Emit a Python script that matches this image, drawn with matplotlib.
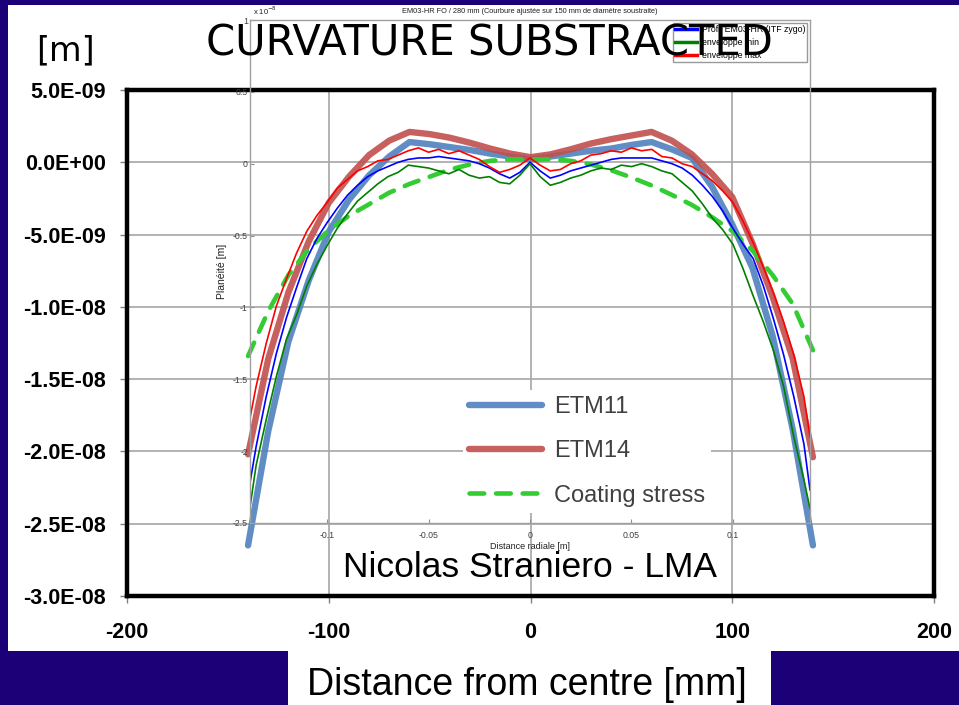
import numpy as np
import matplotlib.pyplot as plt
from matplotlib.patches import Rectangle
from matplotlib.ticker import FormatStrFormatter, FuncFormatter

# Excel chart : measured ETM figures and coating stress model (mm, nm)
pos_mm = [-140, -130, -120, -110, -100, -90, -80, -70, -60, -50, -40, -30, -20, -10,
          0, 10, 20, 30, 40, 50, 60, 70, 80, 90, 100, 110, 120, 130, 140]
etm11_nm = [-26.5, -18.6, -12.4, -8.2, -4.8, -2.6, -0.9, 0.4, 1.4, 1.25, 1.05, 0.85, 0.6, 0.4,
            0.2, 0.4, 0.6, 0.8, 0.95, 1.2, 1.4, 0.9, 0.3, -1.7, -4.3, -7.3, -12.0, -18.5, -26.5]
etm14_nm = [-20.2, -13.6, -9.0, -5.5, -2.8, -1.0, 0.5, 1.5, 2.1, 1.95, 1.7, 1.35, 0.95, 0.6,
            0.35, 0.55, 0.9, 1.3, 1.6, 1.85, 2.1, 1.5, 0.55, -0.8, -2.4, -5.6, -9.3, -13.6, -20.4]
coating_nm = [-13.4, -10.3, -7.8, -6.0, -4.7, -3.7, -2.9, -2.1, -1.5, -1.0, -0.5, -0.15, 0.1, 0.2,
              0.2, 0.2, 0.1, -0.15, -0.55, -1.05, -1.6, -2.25, -2.95, -3.8, -4.75, -6.1, -7.8, -9.8, -13.0]

# MATLAB plot : EM03-HR profile and envelopes (m, x1e-8 m)
r_m = [-0.138, -0.135, -0.13, -0.125, -0.12, -0.115, -0.11, -0.105, -0.1, -0.095,
       -0.09, -0.085, -0.08, -0.075, -0.07, -0.065, -0.06, -0.055, -0.05, -0.045,
       -0.04, -0.035, -0.03, -0.025, -0.02, -0.015, -0.01, -0.005, 0.0, 0.005,
       0.01, 0.015, 0.02, 0.025, 0.03, 0.035, 0.04, 0.045, 0.05, 0.055,
       0.06, 0.065, 0.07, 0.075, 0.08, 0.085, 0.09, 0.095, 0.1, 0.105,
       0.11, 0.115, 0.12, 0.125, 0.13, 0.135, 0.138]
profil = [-2.22, -1.97, -1.62, -1.32, -1.07, -0.86, -0.66, -0.52, -0.41, -0.31,
          -0.22, -0.15, -0.09, -0.05, -0.02, 0.01, 0.03, 0.04, 0.04, 0.05,
          0.04, 0.03, 0.02, 0.0, -0.03, -0.07, -0.10, -0.06, 0.01, -0.05,
          -0.10, -0.08, -0.05, -0.03, -0.01, 0.01, 0.03, 0.04, 0.04, 0.04,
          0.04, 0.02, 0.0, -0.03, -0.08, -0.15, -0.23, -0.33, -0.45, -0.56,
          -0.66, -0.85, -1.08, -1.33, -1.62, -1.95, -2.27]
env_min = [-2.39, -2.10, -1.78, -1.48, -1.22, -1.05, -0.85, -0.70, -0.57, -0.45,
           -0.35, -0.26, -0.20, -0.14, -0.09, -0.06, -0.01, -0.02, -0.03, -0.05,
           -0.07, -0.04, -0.08, -0.10, -0.09, -0.13, -0.14, -0.08, 0.0, -0.09,
           -0.15, -0.13, -0.10, -0.08, -0.05, -0.03, -0.04, -0.01, -0.02, 0.0,
           -0.02, -0.05, -0.07, -0.13, -0.19, -0.28, -0.38, -0.46, -0.56, -0.73,
           -0.92, -1.10, -1.30, -1.55, -1.90, -2.20, -2.40]
env_max = [-1.77, -1.55, -1.25, -0.99, -0.80, -0.62, -0.47, -0.36, -0.27, -0.17,
           -0.11, -0.05, -0.02, 0.02, 0.03, 0.06, 0.09, 0.11, 0.08, 0.10,
           0.07, 0.09, 0.06, 0.03, -0.02, -0.06, -0.04, -0.01, 0.04, -0.01,
           -0.05, -0.04, 0.0, 0.02, 0.06, 0.07, 0.09, 0.08, 0.11, 0.09,
           0.10, 0.05, 0.04, 0.0, -0.02, -0.07, -0.12, -0.19, -0.27, -0.40,
           -0.55, -0.72, -0.90, -1.10, -1.33, -1.62, -1.90]

main_xticks = [-200, -100, 0, 100, 200]
main_yticks = [5e-9, 0.0, -5e-9, -1e-8, -1.5e-8, -2e-8, -2.5e-8, -3e-8]
inner_xticks = [-0.1, -0.05, 0, 0.05, 0.1]
inner_yticks = [-2.5, -2, -1.5, -1, -0.5, 0, 0.5, 1]


def fx(px):
    return px / 959.


def fy(py):
    return 1 - py / 705.


fig = plt.figure(figsize=(9.59, 7.05), dpi=100, facecolor='#1c0078')
# white slide panel + box under the x label
fig.add_artist(Rectangle((fx(8), fy(651)), fx(959) - fx(8), fy(5) - fy(651),
                         transform=fig.transFigure, facecolor='white', edgecolor='none', zorder=-2))
fig.add_artist(Rectangle((fx(288), 0), fx(771) - fx(288), fy(651),
                         transform=fig.transFigure, facecolor='white', edgecolor='none', zorder=-2))

# ---- Excel chart ----
ax = fig.add_axes([fx(127), fy(596), fx(934) - fx(127), fy(90) - fy(596)], zorder=1)
x = np.array(pos_mm)
ax.plot(x, np.array(etm11_nm) * 1e-9, color='#4f81bd', lw=4.6, alpha=0.9,
        solid_capstyle='round', label='ETM11')
ax.plot(x, np.array(etm14_nm) * 1e-9, color='#c0504d', lw=4.6, alpha=0.9,
        solid_capstyle='round', label='ETM14')
ax.plot(x, np.array(coating_nm) * 1e-9, color='#33cc33', lw=3.3, ls=(0, (3.2, 2.6)),
        dash_capstyle='round', label='Coating stress')
ax.set_xlim(-200, 200)
ax.set_ylim(-3e-8, 5e-9)
ax.set_xticks(main_xticks)
ax.set_yticks(main_yticks)
ax.xaxis.set_major_formatter(FormatStrFormatter('%d'))
ax.yaxis.set_major_formatter(FuncFormatter(lambda v, p: '%.1E' % v))
ax.grid(True, color='#a6a6a6', lw=1.2)
ax.set_axisbelow(True)
for s in ax.spines.values():
    s.set_linewidth(3.2)
    s.set_color('black')
ax.tick_params(axis='both', direction='out', length=5, width=1, color='#808080')
ax.tick_params(axis='y', pad=10)
ax.tick_params(axis='x', pad=14)
for lab in ax.get_xticklabels() + ax.get_yticklabels():
    lab.set_fontfamily('Liberation Sans')
    lab.set_fontweight('bold')
    lab.set_fontsize(15.5)

leg = ax.legend(loc='center left', bbox_to_anchor=(0.402, 0.286), frameon=True, facecolor='white',
                edgecolor='none', framealpha=1, fancybox=False,
                prop={'family': 'Liberation Sans', 'size': 17},
                labelspacing=0.95, handlelength=3.1, handletextpad=0.5, borderpad=0.25)
for t in leg.get_texts():
    t.set_color('#404040')

# ---- MATLAB chart pasted over it ----
ax_in = fig.add_axes([fx(250), fy(523), fx(810) - fx(250), fy(20) - fy(523)], zorder=2)
ax_in.set_facecolor('none')
ax_in.plot(r_m, profil, color='#0000ff', lw=1.2, label='Profil EM03-HR (ITF zygo)')
ax_in.plot(r_m, env_min, color='#008000', lw=1.2, label='enveloppe min')
ax_in.plot(r_m, env_max, color='#ff0000', lw=1.2, label='enveloppe max')
ax_in.set_xlim(-0.138, 0.138)
ax_in.set_ylim(-2.5, 1)
ax_in.set_xticks(inner_xticks)
ax_in.set_yticks(inner_yticks)
ax_in.xaxis.set_major_formatter(FormatStrFormatter('%g'))
ax_in.yaxis.set_major_formatter(FormatStrFormatter('%g'))
for s in ax_in.spines.values():
    s.set_color('#a0a0a0')
    s.set_linewidth(1)
ax_in.tick_params(direction='in', length=3, width=0.8, color='#909090',
                  labelsize=6.3, labelcolor='#404040')
ax_in.tick_params(axis='y', pad=1.5)
ax_in.tick_params(axis='x', pad=5.5)
for lab in ax_in.get_xticklabels() + ax_in.get_yticklabels():
    lab.set_fontfamily('Liberation Sans')
ax_in.set_xlabel('Distance radiale [m]', fontsize=6.5, family='Liberation Sans',
                 color='#202020', labelpad=2)
ax_in.set_ylabel('Planéité [m]', fontsize=7.5, family='Liberation Sans',
                 color='#202020', labelpad=4)
ax_in.set_title('EM03-HR FO / 280 mm (Courbure ajustée sur 150 mm de diamètre soustraite)',
                fontsize=5.3, family='Liberation Sans', color='#202020', pad=5)
ax_in.annotate('x 10$^{-8}$', xy=(0, 1), xycoords='axes fraction', xytext=(2, 2),
               textcoords='offset points', fontsize=5.5, family='Liberation Sans',
               ha='left', va='bottom', color='#202020')
leg_in = ax_in.legend(loc='upper right', prop={'family': 'Liberation Sans', 'size': 6.3},
                      frameon=True, fancybox=False, edgecolor='#999999', framealpha=1,
                      borderaxespad=0.3, borderpad=0.25, labelspacing=0.45,
                      handlelength=2.5, handletextpad=0.5)
for ln in leg_in.get_lines():
    ln.set_linewidth(2.5)

# ---- slide texts ----
fig.text(fx(65), fy(51), '[m]', fontsize=24, ha='center', va='center', family='DejaVu Sans')
fig.text(fx(489), fy(55), 'CURVATURE SUBSTRACTED', fontsize=30, ha='center', va='baseline',
         family='DejaVu Sans', zorder=5)
fig.text(fx(530), fy(577), 'Nicolas Straniero - LMA', fontsize=25.5, ha='center', va='baseline',
         family='Liberation Sans', zorder=5)
fig.text(fx(527), fy(695), 'Distance from centre [mm]', fontsize=27, ha='center', va='baseline',
         family='Liberation Sans', zorder=5)

fig.savefig('out.png', dpi=100, facecolor=fig.get_facecolor())
